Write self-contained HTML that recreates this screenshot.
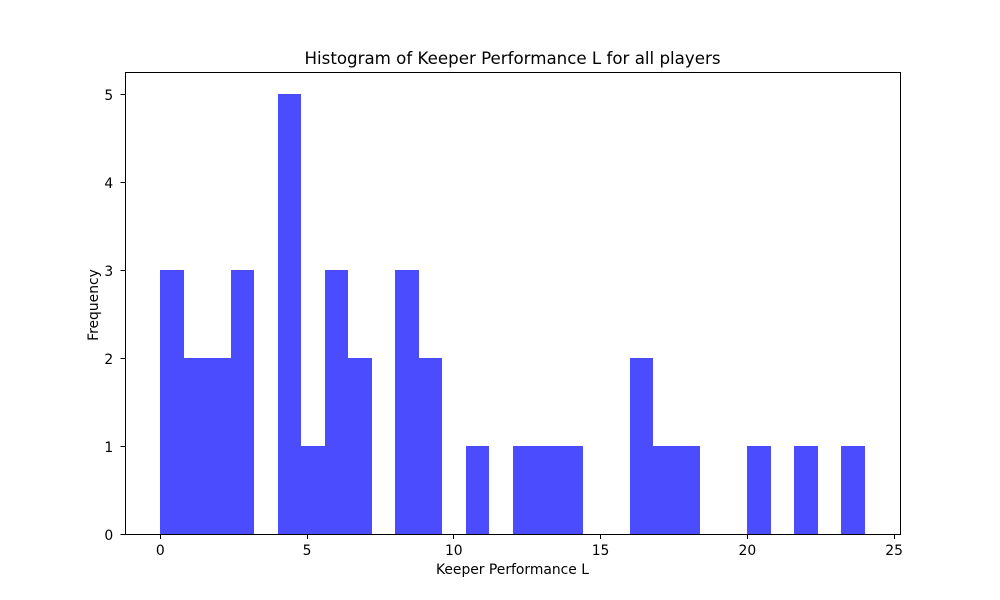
<!DOCTYPE html>
<html>
<head>
<meta charset="utf-8">
<title>Histogram of Keeper Performance L for all players</title>
<style>
html,body{margin:0;padding:0;background:#fff;}
svg{display:block;}
text{font-family:"DejaVu Sans",sans-serif;fill:#000;}
</style>
</head>
<body>
<svg id="chart" xmlns="http://www.w3.org/2000/svg" width="1000" height="600" viewBox="0 0 1000 600">
<rect x="0" y="0" width="1000" height="600" fill="#ffffff"/>
<rect x="125" y="72" width="775" height="462" fill="#ffffff"/>
<g id="bars"></g>
<g id="xticks"></g>
<g id="yticks"></g>
<rect x="125.5" y="72.5" width="775" height="462" fill="none" stroke="#000" stroke-width="1"/>
<text x="512.5" y="64" text-anchor="middle" font-size="16.67">Histogram of Keeper Performance L for all players</text>
<text x="512.5" y="574" text-anchor="middle" font-size="13.89">Keeper Performance L</text>
<text transform="translate(98,305) rotate(-90)" text-anchor="middle" font-size="13.89">Frequency</text>
</svg>
<script>
const binCounts = [3,2,2,3,0,5,1,3,2,0,3,2,0,1,0,1,1,1,0,0,2,1,1,0,0,1,0,1,0,1];
const binMin = 0;
const binMax = 24;
const xTickLabels = [0,5,10,15,20,25];
const yTickLabels = [0,1,2,3,4,5];

const NS = 'http://www.w3.org/2000/svg';
const plot = {left:125, right:900, top:72, bottom:534};
const binWidth = (binMax - binMin) / binCounts.length;
const xPad = (binMax - binMin) * 0.05;
const xLo = binMin - xPad, xHi = binMax + xPad;
const yHi = Math.max(...binCounts) * 1.05;
function xScale(v){ return plot.left + (v - xLo) / (xHi - xLo) * (plot.right - plot.left); }
function yScale(v){ return plot.bottom - v / yHi * (plot.bottom - plot.top); }
function snap(v){ return Math.floor(v + 1e-6) + 0.5; }

const barsGroup = document.getElementById('bars');
binCounts.forEach(function(count, i){
  if (count === 0) return;
  const x0 = Math.round(xScale(binMin + i * binWidth));
  const x1 = Math.round(xScale(binMin + (i + 1) * binWidth));
  const top = Math.round(yScale(count));
  const r = document.createElementNS(NS, 'rect');
  
  
  r.setAttribute('x', x0);
  r.setAttribute('y', top);
  r.setAttribute('width', x1 - x0);
  r.setAttribute('height', plot.bottom - top);
  r.setAttribute('fill', '#0000ff');
  r.setAttribute('fill-opacity', '0.7');
  r.setAttribute('shape-rendering', 'crispEdges');
  barsGroup.appendChild(r);
});

const xGroup = document.getElementById('xticks');
xTickLabels.forEach(function(v){
  const x = xScale(v);
  const l = document.createElementNS(NS, 'line');
  
  
  l.setAttribute('x1', snap(x));
  l.setAttribute('x2', snap(x));
  l.setAttribute('y1', plot.bottom + 0.5);
  l.setAttribute('y2', plot.bottom + 5);
  l.setAttribute('stroke', '#000');
  l.setAttribute('stroke-width', '1');
  xGroup.appendChild(l);
  const t = document.createElementNS(NS, 'text');
  
  
  t.setAttribute('x', x);
  t.setAttribute('y', plot.bottom + 21);
  t.setAttribute('text-anchor', 'middle');
  t.setAttribute('font-size', '13.89');
  t.textContent = v;
  xGroup.appendChild(t);
});

const yGroup = document.getElementById('yticks');
yTickLabels.forEach(function(v){
  const y = yScale(v);
  const l = document.createElementNS(NS, 'line');
  
  
  l.setAttribute('x1', plot.left - 4.5);
  l.setAttribute('x2', plot.left + 0.5);
  l.setAttribute('y1', snap(y));
  l.setAttribute('y2', snap(y));
  l.setAttribute('stroke', '#000');
  l.setAttribute('stroke-width', '1');
  yGroup.appendChild(l);
  const t = document.createElementNS(NS, 'text');
  
  
  t.setAttribute('x', plot.left - 11.8);
  t.setAttribute('y', Math.round(y) + 6);
  t.setAttribute('text-anchor', 'end');
  t.setAttribute('font-size', '13.89');
  t.textContent = v;
  yGroup.appendChild(t);
});
</script>
</body>
</html>
